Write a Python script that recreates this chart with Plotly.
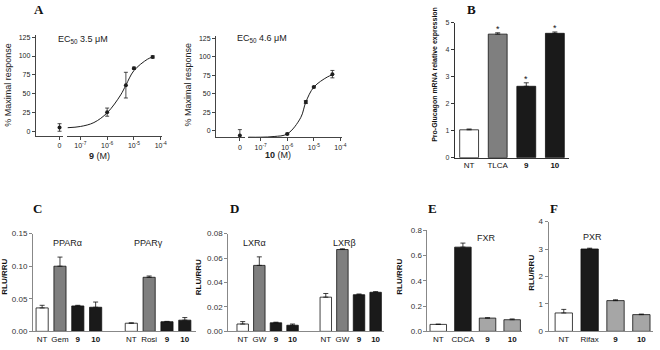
import plotly.graph_objects as go

W, H = 660, 350
SANS = "Liberation Sans, Arial, sans-serif"
SERIF = "Liberation Serif, Times New Roman, serif"
INK = "#1e1e1e"

# ---------------- Panel A data ----------------
a_conc = [1e-6, 5e-6, 1e-5, 5e-5]
a_log_ticks = [1e-7, 1e-6, 1e-5, 1e-4]
a_log_ticktext = ["10<sup>-7</sup>", "10<sup>-6</sup>", "10<sup>-5</sup>", "10<sup>-4</sup>"]
a_y_ticks = [0, 25, 50, 75, 100, 125]

a9_resp = [25.8, 61.5, 83.8, 98.8]
a9_err = [5.4, 17.0, 1.5, 1.5]
a9_zero_resp = [5.5]
a9_zero_err = [5.0]
a9_fit_conc = [3.3e-8, 1e-7, 3.2e-7, 1e-6, 3.2e-6, 5e-6, 1e-5, 3.2e-5, 5e-5]
a9_fit_resp = [5.2, 6.8, 12.0, 24.9, 48.6, 61.5, 80.8, 95.8, 98.8]
a9_ec50 = "EC<sub>50</sub> 3.5 μM"

a10_resp = [-4.4, 38.6, 58.8, 76.3]
a10_err = [1.0, 2.0, 1.0, 5.0]
a10_zero_resp = [-6.6]
a10_zero_err = [8.0]
a10_fit_conc = [3.4e-8, 1e-7, 3.2e-7, 1e-6, 3.2e-6, 5e-6, 1e-5, 3.2e-5, 5e-5]
a10_fit_resp = [-8.8, -8.8, -7.9, -4.4, 17.5, 38.6, 58.8, 72.4, 75.4]
a10_ec50 = "EC<sub>50</sub> 4.6 μM"

# ---------------- Panel B data ----------------
b_cats = ["NT", "TLCA", "9", "10"]
b_vals = [1.03, 4.57, 2.64, 4.60]
b_err = [0.03, 0.05, 0.13, 0.05]
b_sig = [False, True, True, True]

# ---------------- Panels C-F data ----------------
c_groups = ["PPARα", "PPARγ"]
c_cats = [["NT", "Gem", "9", "10"], ["NT", "Rosi", "9", "10"]]
c_vals = [[0.036, 0.100, 0.039, 0.037], [0.0125, 0.083, 0.0148, 0.0172]]
c_err = [[0.004, 0.014, 0.001, 0.008], [0.0005, 0.002, 0.0005, 0.004]]

d_groups = ["LXRα", "LXRβ"]
d_cats = [["NT", "GW", "9", "10"], ["NT", "GW", "9", "10"]]
d_vals = [[0.006, 0.054, 0.007, 0.005], [0.028, 0.067, 0.030, 0.032]]
d_err = [[0.002, 0.007, 0.0005, 0.001], [0.003, 0.0006, 0.0006, 0.0005]]

e_group = "FXR"
e_cats = ["NT", "CDCA", "9", "10"]
e_vals = [0.055, 0.665, 0.105, 0.092]
e_err = [0.002, 0.032, 0.002, 0.006]

f_group = "PXR"
f_cats = ["NT", "Rifax", "9", "10"]
f_vals = [0.67, 3.00, 1.12, 0.61]
f_err = [0.13, 0.03, 0.03, 0.02]

WHITE, GRAY, BLACK, LGRAY = "#ffffff", "#7f7f7f", "#1a1a1a", "#a6a6a6"
colors_bcd = [WHITE, GRAY, BLACK, BLACK]
colors_ef = [WHITE, BLACK, LGRAY, LGRAY]


def lab(c):
    return f"<b>{c}</b>" if c.isdigit() else c


def xd(a, b):
    return [a / W, b / W]


def yd(top, bottom):
    return [1 - bottom / H, 1 - top / H]


def P(x, y):
    return x / W, 1 - y / H


fig = go.Figure()
layout = dict(width=W, height=H, autosize=False, margin=dict(l=0, r=0, t=0, b=0),
              paper_bgcolor="white", plot_bgcolor="white", showlegend=False,
              font=dict(family=SANS, size=8, color="#222"))


def axis(**kw):
    base = dict(showgrid=False, zeroline=False, showline=True, linewidth=1,
                linecolor="#444", ticks="outside", ticklen=3, tickwidth=1,
                tickcolor="#444", tickfont=dict(family=SANS, size=7, color="#222"),
                fixedrange=True, tickangle=0)
    base.update(kw)
    return base


annots = []


# ---------------- Panel A ----------------
def panel_a(xz, xl, ya, xz_dom, xl_dom, y_dom, z_range, l_range, y_range,
            resp, err, zr, ze, fit_c, fit_r, ec50, ec_pos, xlabel, xl_pos, ylab_x):
    layout["xaxis" + xz[1:]] = axis(domain=xd(*xz_dom), range=z_range, anchor=ya,
                                    tickvals=[0], ticktext=["0"])
    layout["xaxis" + xl[1:]] = axis(domain=xd(*xl_dom), type="log", range=l_range, anchor=ya,
                                    tickvals=a_log_ticks, ticktext=a_log_ticktext)
    layout["yaxis" + ya[1:]] = axis(domain=yd(*y_dom), range=y_range, anchor=xz,
                                    tickvals=a_y_ticks)
    fig.add_trace(go.Scatter(x=fit_c, y=fit_r, mode="lines", xaxis=xl, yaxis=ya,
                             line=dict(color=INK, width=1, shape="spline", smoothing=1.0),
                             hoverinfo="skip"))
    fig.add_trace(go.Scatter(x=a_conc, y=resp, mode="markers", xaxis=xl, yaxis=ya,
                             marker=dict(color=INK, size=4, symbol="circle"),
                             error_y=dict(type="data", array=err, color=INK, thickness=0.8, width=2)))
    fig.add_trace(go.Scatter(x=[0], y=zr, mode="markers", xaxis=xz, yaxis=ya,
                             marker=dict(color=INK, size=4, symbol="circle"),
                             error_y=dict(type="data", array=ze, color=INK, thickness=0.8, width=2)))
    x, y = P(*ec_pos)
    annots.append(dict(x=x, y=y, xref="paper", yref="paper", text=ec50, showarrow=False,
                       xanchor="left", yanchor="middle", font=dict(size=9, family=SANS, color="#222")))
    x, y = P(*xl_pos)
    annots.append(dict(x=x, y=y, xref="paper", yref="paper", text=xlabel, showarrow=False,
                       xanchor="center", yanchor="middle", font=dict(size=9, family=SANS, color="#222")))
    x, y = P(ylab_x, 83)
    annots.append(dict(x=x, y=y, xref="paper", yref="paper", text="% Maximal response",
                       showarrow=False, textangle=-90, xanchor="center", yanchor="middle",
                       font=dict(size=9, family=SANS, color="#222")))


panel_a("x", "x2", "y", (36, 63), (68, 163.5), (32, 135), [-0.889, 0.111], [-7.48, -3.944],
        [-5.15, 127.6], a9_resp, a9_err, a9_zero_resp, a9_zero_err, a9_fit_conc, a9_fit_resp,
        a9_ec50, (56, 36), "<b>9</b> (M)", (100, 156), 8)
panel_a("x3", "x4", "y2", (217.7, 247), (250, 344.5), (33, 137), [-0.819, 0.181], [-7.474, -3.944],
        [-9.2, 127.6], a10_resp, a10_err, a10_zero_resp, a10_zero_err, a10_fit_conc, a10_fit_resp,
        a10_ec50, (237, 35), "<b>10</b> (M)", (280, 155), 189)


# ---------------- Bar panels ----------------
def bar_panel(xa, ya, x_dom, y_dom, x_range, y_range, y_ticks, y_fmt, groups, cats, vals, errs,
              colors, group_label_pos, ylabel, ylabel_pos, linecolor, tickcolor, gap=5,
              width=0.68, catfont=8, tickfs=8, ylabfs=8):
    pos, txt, allv, alle, cols = [], [], [], [], []
    for g, (cs, vs, es) in enumerate(zip(cats, vals, errs)):
        for i, (c, v, e) in enumerate(zip(cs, vs, es)):
            pos.append(g * gap + i)
            txt.append(lab(c))
            allv.append(v)
            alle.append(e)
            cols.append(colors[i])
    layout["xaxis" + xa[1:]] = axis(domain=xd(*x_dom), range=x_range, anchor=ya, ticks="",
                                    tickvals=pos, ticktext=txt, linecolor=linecolor,
                                    tickfont=dict(family=SANS, size=catfont, color="#111"))
    layout["yaxis" + ya[1:]] = axis(domain=yd(*y_dom), range=y_range, anchor=xa,
                                    tickvals=y_ticks, tickformat=y_fmt, linecolor=linecolor,
                                    tickcolor=tickcolor,
                                    tickfont=dict(family=SANS, size=tickfs, color="#333"))
    fig.add_trace(go.Bar(x=pos, y=allv, xaxis=xa, yaxis=ya, width=width,
                         marker=dict(color=cols, line=dict(color="#111", width=0.8)),
                         error_y=dict(type="data", array=alle, arrayminus=[0] * len(alle),
                                      symmetric=False, color="#111", thickness=0.8, width=2.5)))
    for gl, (gx, gy) in zip(groups, group_label_pos):
        x, y = P(gx, gy)
        annots.append(dict(x=x, y=y, xref="paper", yref="paper", text=gl, showarrow=False,
                           xanchor="center", yanchor="middle",
                           font=dict(size=9, family=SANS, color="#222")))
    x, y = P(*ylabel_pos)
    annots.append(dict(x=x, y=y, xref="paper", yref="paper", text=f"<b>{ylabel}</b>",
                       showarrow=False, textangle=-90, xanchor="center", yanchor="middle",
                       font=dict(size=ylabfs, family=SANS, color="#111")))
    return pos, allv, alle


# B
bpos, bv, be = bar_panel("x5", "y3", (458.3, 573.5), (19, 157.7), [-0.5, 3.5], [0, 5],
                         [0, 1, 2, 3, 4, 5], "d", [], [b_cats], [b_vals], [b_err], colors_bcd,
                         [], "Pro-Glucagon mRNA relative expression", (438, 72), "#333", "#333",
                         width=0.66, catfont=8, tickfs=7, ylabfs=7)
for p, v, e, s in zip(bpos, bv, be, b_sig):
    if s:
        annots.append(dict(x=p, y=v + e, xref="x5", yref="y3", text="*", showarrow=False,
                           yanchor="bottom", yshift=-3, font=dict(size=9, family=SANS, color="#111")))
# C
bar_panel("x6", "y4", (33.3, 197), (235.7, 336), [-0.51, 8.6], [0, 0.15],
          [0, 0.05, 0.10, 0.15], ".2f", c_groups, c_cats, c_vals, c_err, colors_bcd,
          [(68, 245), (150, 245)], "RLU/RRU", (5, 280), "#888", "#888")
# D
bar_panel("x7", "y5", (230, 386.7), (235.7, 336), [-0.87, 8.49], [0, 0.08],
          [0, 0.02, 0.04, 0.06, 0.08], ".2f", d_groups, d_cats, d_vals, d_err, colors_bcd,
          [(256, 245), (347, 245)], "RLU/RRU", (200, 280), "#888", "#888", width=0.69)
# E
bar_panel("x8", "y6", (430.7, 526), (232, 336), [-0.44, 3.4], [0, 0.8],
          [0, 0.2, 0.4, 0.6, 0.8], ".1f", [e_group], [e_cats], [e_vals], [e_err], colors_ef,
          [(490, 240)], "RLU/RRU", (403, 280), "#888", "#888", width=0.67)
# F
bar_panel("x9", "y7", (552.7, 658), (223.3, 336), [-0.59, 3.45], [0, 4],
          [0, 1, 2, 3, 4], "d", [f_group], [f_cats], [f_vals], [f_err], colors_ef,
          [(597, 239)], "RLU/RRU", (536, 276), "#888", "#888", width=0.67)

# Panel letters
for letter, (lx, ly) in zip(["A", "B", "C", "D", "E", "F"],
                            [(39, 6), (475, 6), (38, 210), (236, 210), (436, 210), (558, 210)]):
    x, y = P(lx, ly)
    annots.append(dict(x=x, y=y, xref="paper", yref="paper", text=f"<b>{letter}</b>",
                       showarrow=False, xanchor="center", yanchor="middle",
                       font=dict(size=13, family=SERIF, color="#111")))

layout["annotations"] = annots
fig.update_layout(**layout)
fig.write_html("out.html", config={"displayModeBar": False},
               post_script="document.body.style.margin='0';document.body.style.overflow='hidden';")
